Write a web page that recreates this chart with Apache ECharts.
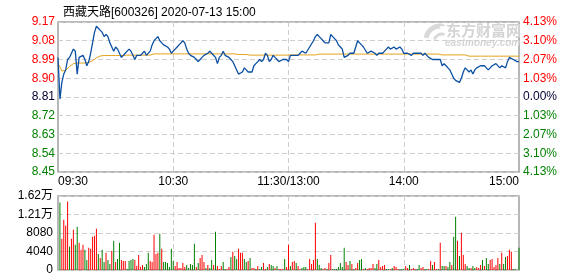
<!DOCTYPE html>
<html><head><meta charset="utf-8">
<script src="https://cdn.jsdelivr.net/npm/echarts@6/dist/echarts.min.js"></script>
<style>html,body{margin:0;padding:0;background:#fff;}#c{width:578px;height:276px;}</style>
</head><body><div id="c"></div>
<script>
const titleText = '西藏天路[600326] 2020-07-13 15:00';
const prevClose = 8.81;
const priceTicks = ['8.45','8.54','8.63','8.72','8.81','8.90','8.99','9.08','9.17'];
const pctTicks = ['4.13%','3.10%','2.07%','1.03%','0.00%','1.03%','2.07%','3.10%','4.13%'];
const volTicks = ['0','4040','8080','1.21万','1.62万'];
const timeTicks = ['09:30','10:30','11:30/13:00','14:00','15:00'];

const price = [
9.00,8.80,8.88,8.92,8.94,8.99,9.00,9.02,9.04,9.03,
8.92,9.00,9.00,9.01,8.99,8.96,8.98,9.02,9.07,9.12,
9.15,9.14,9.13,9.12,9.10,9.11,9.10,9.07,9.07,9.03,
9.05,9.04,9.02,9.00,9.01,9.02,9.03,9.04,9.03,9.01,
8.99,9.01,9.01,9.01,9.02,9.03,9.01,9.01,9.03,9.06,
9.08,9.09,9.10,9.08,9.07,9.06,9.06,9.05,9.04,9.02,
9.03,9.04,9.05,9.06,9.07,9.08,9.07,9.04,9.02,9.01,
9.01,9.00,8.99,8.98,8.99,9.00,9.01,9.01,9.02,9.03,
9.02,9.02,9.00,8.97,9.00,9.01,9.03,9.01,9.01,9.00,
8.99,8.98,8.96,8.94,8.92,8.92,8.93,8.95,8.94,8.93,
8.93,8.93,8.96,8.97,8.98,8.99,8.98,8.99,9.02,9.01,
8.98,8.99,9.01,9.00,8.99,8.98,8.98,8.99,8.99,8.99,
8.98,9.01,9.01,9.01,9.01,9.01,9.02,9.03,9.03,9.02,
9.02,9.05,9.05,9.08,9.10,9.11,9.10,9.09,9.08,9.07,
9.07,9.07,9.11,9.10,9.09,9.08,9.06,9.05,9.04,9.00,
9.00,9.01,9.02,9.02,9.02,9.05,9.08,9.07,9.06,9.05,
9.05,9.02,9.02,9.03,9.03,9.02,9.01,9.02,9.02,9.02,
9.03,9.04,9.05,9.04,9.04,9.05,9.04,9.04,9.05,9.04,
9.02,9.02,9.02,9.02,9.01,9.02,9.02,9.02,9.02,9.02,
9.01,9.02,9.01,9.00,9.00,8.99,8.99,8.99,8.99,8.99,
8.96,8.97,8.96,8.95,8.94,8.92,8.90,8.89,8.89,8.88,
8.90,8.93,8.95,8.94,8.93,8.94,8.92,8.94,8.95,8.95,
8.96,8.96,8.96,8.95,8.94,8.95,8.96,8.96,8.97,8.97,
8.95,8.96,8.96,8.95,8.98,9.00,9.00,8.99,8.99,8.98,
8.98
];

const avgPrice = [
8.971,8.955,8.935,8.927,8.938,8.947,8.957,8.965,8.970,8.973,
8.973,8.973,8.973,8.973,8.973,8.973,8.976,8.976,8.984,8.990,
8.998,9.004,9.007,9.009,9.009,9.009,9.009,9.009,9.009,9.009,
9.009,9.009,9.009,9.009,9.009,9.009,9.011,9.011,9.011,9.011,
9.011,9.011,9.011,9.011,9.011,9.011,9.011,9.011,9.011,9.011,
9.017,9.017,9.017,9.017,9.017,9.017,9.017,9.017,9.017,9.017,
9.017,9.017,9.017,9.017,9.017,9.017,9.017,9.017,9.017,9.017,
9.017,9.017,9.017,9.017,9.017,9.017,9.017,9.017,9.017,9.017,
9.017,9.017,9.017,9.017,9.017,9.017,9.017,9.017,9.017,9.017,
9.017,9.017,9.017,9.017,9.014,9.014,9.014,9.014,9.014,9.011,
9.011,9.011,9.011,9.011,9.011,9.011,9.011,9.011,9.011,9.011,
9.011,9.011,9.011,9.011,9.011,9.011,9.011,9.011,9.011,9.011,
9.011,9.011,9.012,9.012,9.012,9.012,9.012,9.012,9.012,9.012,
9.012,9.012,9.012,9.012,9.012,9.016,9.016,9.016,9.016,9.016,
9.016,9.016,9.016,9.016,9.016,9.016,9.016,9.016,9.016,9.016,
9.016,9.016,9.016,9.016,9.016,9.016,9.016,9.016,9.016,9.016,
9.016,9.016,9.016,9.016,9.016,9.016,9.016,9.016,9.016,9.016,
9.016,9.016,9.016,9.016,9.016,9.016,9.016,9.016,9.016,9.016,
9.016,9.016,9.016,9.016,9.016,9.016,9.016,9.016,9.016,9.016,
9.016,9.016,9.016,9.016,9.016,9.016,9.016,9.016,9.016,9.016,
9.012,9.012,9.012,9.012,9.012,9.012,9.012,9.012,9.012,9.012,
9.012,9.012,9.012,9.006,9.006,9.006,9.006,9.006,9.006,9.006,
9.006,9.006,9.006,9.006,9.006,9.006,9.006,9.006,9.006,9.006,
9.006,9.006,9.006,9.006,9.006,9.006,9.006,9.006,9.006,9.006,
9.006
];

const volume = [
0,
14730,6820,11000,9680,14950,5130,6820,8800,5500,9460,
5940,4400,5500,4400,2200,4840,4620,7260,7480,9020,
3520,2640,4400,1760,3740,2200,1320,4180,6380,1760,
2420,5940,2200,1980,1980,300,1980,2200,2420,2200,
880,3300,730,1100,660,1320,3740,1980,1760,7700,
3520,3740,7920,4620,1760,1760,1540,660,4620,1980,
880,1760,440,440,1540,660,1100,440,1320,1100,
5720,660,1540,2640,3300,1760,440,1100,440,
2200,1100,8360,880,220,880,1760,220,220,660,
2860,3960,3080,2420,4620,3740,3740,2420,1760,1980,
2640,440,440,220,880,220,660,1540,220,660,
1320,1100,880,440,880,220,220,220,2420,660,
5500,880,1760,1980,1540,880,220,440,660,660,
220,2420,1320,2200,10340,2420,1100,440,220,440,
220,1540,3300,220,220,220,660,1540,660,4840,
1760,1100,1980,1320,220,440,1540,2200,2420,220,
440,220,440,440,1320,440,1320,2200,660,880,
1100,220,220,220,440,880,660,220,220,220,
220,880,440,1100,220,440,220,220,1100,440,
660,220,220,220,1980,1100,1760,220,220,5940,
880,880,880,660,1760,1100,7260,11650,6380,3080,
8140,3300,1320,880,440,440,880,440,660,440,
1100,2200,880,2640,1320,2200,2420,660,1100,2640,
1320,3740,1320,2860,3080,4400,3960,220,220,0,4840
];

// 1 = up minute (red), -1 = down minute (green)
const volumeDir = [
1,
-1,1,1,1,1,-1,1,1,-1,-1,
1,1,1,-1,-1,1,1,1,1,1,
-1,1,-1,-1,1,-1,-1,1,-1,1,
-1,-1,1,1,1,-1,-1,-1,-1,1,
1,1,1,1,-1,-1,-1,1,1,1,
1,1,-1,1,-1,-1,-1,-1,-1,-1,
1,1,1,1,1,1,-1,-1,-1,-1,
-1,1,-1,1,1,1,-1,1,-1,
-1,1,-1,1,1,1,-1,-1,1,1,
-1,1,-1,-1,1,1,1,-1,-1,1,
-1,1,1,-1,1,-1,-1,1,1,-1,
1,-1,-1,1,-1,1,1,1,-1,1,
1,-1,1,1,-1,1,1,-1,-1,-1,
1,1,1,1,1,-1,-1,-1,1,1,
-1,1,1,-1,-1,-1,-1,-1,-1,-1,
1,1,-1,1,-1,1,1,-1,-1,1,
-1,1,1,1,1,-1,-1,1,1,1,
1,-1,-1,1,-1,1,1,1,-1,-1,
-1,1,1,-1,1,1,1,-1,-1,1,
1,-1,-1,1,1,-1,1,1,-1,1,
-1,-1,1,-1,-1,1,-1,-1,1,-1,
1,1,1,-1,-1,1,-1,-1,1,1,
1,-1,1,-1,-1,1,1,1,1,1,
-1,1,-1,-1,1,1,1,-1,-1,-1,-1
];

// minute category labels 09:30..11:30, 13:01..15:00
const times = [];
for (let h = 9, m = 30; !(h === 11 && m === 31); ) { times.push(String(h).padStart(2,'0')+':'+String(m).padStart(2,'0')); m++; if (m === 60) { m = 0; h++; } }
for (let h = 13, m = 1; !(h === 15 && m === 1); ) { times.push(String(h).padStart(2,'0')+':'+String(m).padStart(2,'0')); m++; if (m === 60) { m = 0; h++; } }

const FONT = '"Liberation Sans", Arial, "Noto Sans CJK SC", sans-serif';
const RED = '#ff0000', GREEN = '#008000', DARK = '#000033';
function sideColor(v){ if (v > prevClose + 1e-6) return RED; if (v < prevClose - 1e-6) return GREEN; return DARK; }
function tickIdx(v){ return Math.round((v - 8.45) / 0.09); }
const dash = { color: '#cfcfcf', type: [5, 3], width: 1 };

const chart = echarts.init(document.getElementById('c'), null, { renderer: 'canvas' });
chart.setOption({
  animation: false,
  backgroundColor: '#fff',
  title: { text: titleText, left: 58, top: 2, textStyle: { fontSize: 12, fontWeight: 'normal', color: '#000', fontFamily: FONT } },
  graphic: [
    { type: 'arc', z: 0, silent: true, shape: { cx: 440, cy: 40, r: 14, startAngle: Math.PI * 1.05, endAngle: Math.PI * 1.55 }, style: { stroke: '#d9d9d9', lineWidth: 5, fill: null } },
    { type: 'arc', z: 0, silent: true, shape: { cx: 442, cy: 42, r: 8, startAngle: Math.PI * 1.1, endAngle: Math.PI * 1.6 }, style: { stroke: '#d9d9d9', lineWidth: 3, fill: null } },
    { type: 'text', left: 446, top: 23, z: 0, style: { text: '东方财富网', font: 'bold 15px "Noto Sans CJK SC"', fill: '#d4d4d4' } },
    { type: 'text', left: 445, top: 38, z: 0, style: { text: 'eastmoney.com', font: 'italic bold 10px "Liberation Sans"', fill: '#d4d4d4' } }
  ],
  grid: [
    { left: 58, top: 22, width: 461, height: 150, show: true, borderColor: '#a0a0a0', borderWidth: 1.5, containLabel: false },
    { left: 58, top: 196, width: 461, height: 74, show: true, borderColor: '#a0a0a0', borderWidth: 1.5, containLabel: false }
  ],
  xAxis: [
    { type: 'category', gridIndex: 0, data: times, boundaryGap: false,
      axisLine: { show: false }, axisTick: { show: false },
      axisLabel: { show: true, interval: function(i){ return i % 60 === 0; }, formatter: function(v, i){ return timeTicks[Math.round(i/60)]; },
        color: '#000', fontSize: 12, fontFamily: FONT, margin: 4, showMinLabel: true, showMaxLabel: true, alignMinLabel: 'left', alignMaxLabel: 'right' },
      splitLine: { show: true, interval: function(i){ return i % 60 === 0 && i > 0 && i < 240; }, lineStyle: dash } },
    { type: 'category', gridIndex: 1, data: times, boundaryGap: false,
      axisLine: { show: false }, axisTick: { show: false }, axisLabel: { show: false },
      splitLine: { show: true, interval: function(i){ return i % 60 === 0 && i > 0 && i < 240; }, lineStyle: dash } }
  ],
  yAxis: [
    { type: 'value', gridIndex: 0, position: 'left', min: 8.45, max: 9.17, interval: 0.09, scale: true,
      axisLine: { show: false }, axisTick: { show: false },
      axisLabel: { margin: 3, fontSize: 12, fontFamily: FONT, formatter: function(v){ return priceTicks[tickIdx(v)]; }, color: function(v){ return sideColor(Number(v)); } },
      splitLine: { show: true, lineStyle: dash } },
    { type: 'value', gridIndex: 0, position: 'right', min: 8.45, max: 9.17, interval: 0.09, scale: true,
      axisLine: { show: false }, axisTick: { show: false },
      axisLabel: { margin: 4, fontSize: 12, fontFamily: FONT, formatter: function(v){ return pctTicks[tickIdx(v)]; }, color: function(v){ return sideColor(Number(v)); } },
      splitLine: { show: false } },
    { type: 'value', gridIndex: 1, position: 'left', min: 0, max: 16160, interval: 4040,
      axisLine: { show: false }, axisTick: { show: false },
      axisLabel: { margin: 5, fontSize: 12, fontFamily: FONT, color: '#000', formatter: function(v){ return volTicks[Math.round(v/4040)]; } },
      splitLine: { show: true, lineStyle: dash } }
  ],
  series: [
    { type: 'bar', xAxisIndex: 1, yAxisIndex: 2, data: volume, barWidth: 1, silent: true,
      itemStyle: { color: function(p){ return volumeDir[p.dataIndex] > 0 ? RED : GREEN; } } },
    { type: 'line', xAxisIndex: 0, yAxisIndex: 0, data: avgPrice, symbol: 'none', silent: true,
      lineStyle: { color: '#e3a21a', width: 1 }, z: 3 },
    { type: 'line', xAxisIndex: 0, yAxisIndex: 0, data: price, symbol: 'none', silent: true,
      lineStyle: { color: '#0b4fa3', width: 1.3 }, z: 4 }
  ]
});
</script></body></html>
